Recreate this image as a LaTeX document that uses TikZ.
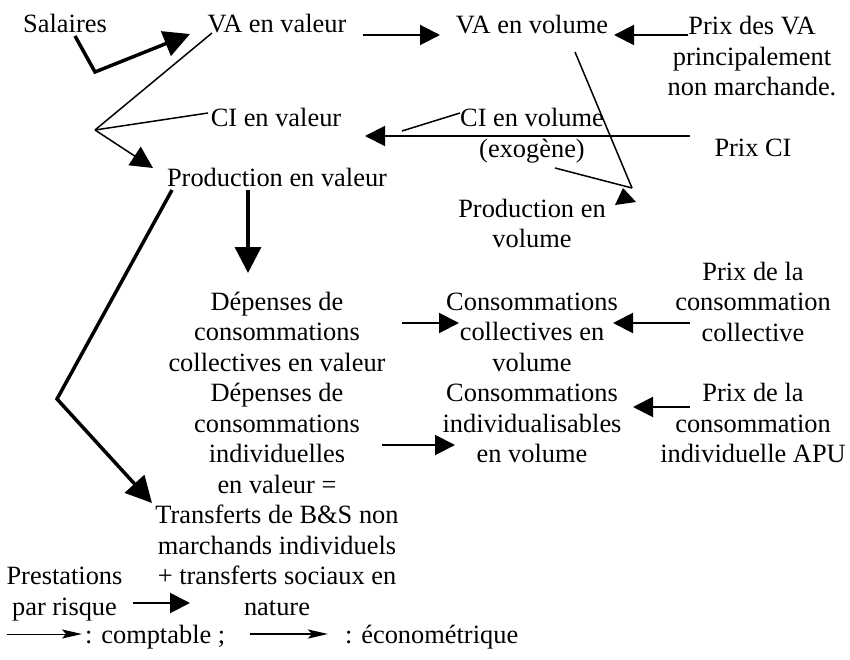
\documentclass[tikz,border=0pt]{standalone}
\usepackage{fontspec}
\setmainfont{Liberation Serif}
\usetikzlibrary{arrows.meta}
\begin{document}
\begin{tikzpicture}[x=1pt,y=-1pt,
  lbl/.style={inner sep=0pt, align=center, anchor=base, font=\fontsize{26.4}{30.5}\selectfont},
  lbll/.style={lbl, anchor=base west},
  thinline/.style={line width=1.5pt},
  thinarr/.style={line width=1.5pt, -{Triangle[length=22pt,width=22pt]}},
  medarr/.style={line width=2pt, -{Triangle[length=20pt,width=20pt]}},
  thickarr/.style={line width=3.5pt, -{Triangle[length=26pt,width=26pt]}},
  legthin/.style={line width=1pt, -{Stealth[length=20pt,width=9pt,inset=4pt]}},
  legthick/.style={line width=2.5pt, -{Stealth[length=20pt,width=9pt,inset=4pt]}}
]
\useasboundingbox (0,0) rectangle (850,660);
\fill[white] (0,0) rectangle (850,660);

% nodes (multi-line nodes are placed by the baseline of their last line)
\node[lbl] (sal) at (65,33) {Salaires};
\node[lbl] (vaval) at (277,33) {VA en valeur};
\node[lbl] (vavol) at (532,34) {VA en volume};
\node[lbl] (pva) at (752,96) {Prix des VA\\principalement\\non marchande.};
\node[lbl] (cival) at (276,127) {CI en valeur};
\node[lbl] (civol) at (532,157.5) {CI en volume\\(exogène)};
\node[lbl] (pci) at (753,157) {Prix CI};
\node[lbl] (prodval) at (277,187) {Production en valeur};
\node[lbl] (prodvol) at (532,247.5) {Production en\\volume};
\node[lbl] (depcol) at (277,371) {Dépenses de\\consommations\\collectives en valeur};
\node[lbl] (depind) at (277,615) {Dépenses de\\consommations\\individuelles\\en valeur =\\Transferts de B\&S non\\marchands individuels\\+ transferts sociaux en\\nature};
\node[lbl] (concol) at (532,371) {Consommations\\collectives en\\volume};
\node[lbl] (conind) at (532,462.5) {Consommations\\individualisables\\en volume};
\node[lbl] (pcol) at (753,341) {Prix de la\\consommation\\collective};
\node[lbl] (pind) at (753,462.5) {Prix de la\\consommation\\individuelle APU};
\node[lbl] (prest) at (64.5,615) {Prestations\\par risque};
\node[lbll] (legc) at (85,643) {: comptable ;};
\node[lbll] (lege) at (345,643) {: économétrique};

% connector points
\coordinate (salA) at (75,36);
\coordinate (salB) at (95,72);
\coordinate (vavalT) at (190,34);
\coordinate (vavalR) at (363,35);
\coordinate (vavolL) at (440,35);
\coordinate (pvaL) at (688,35);
\coordinate (vavolR) at (614,35);
\coordinate (vavalL) at (212,33);
\coordinate (civalL) at (208,113);
\coordinate (j1) at (95,130);
\coordinate (prodvalT) at (153,168);
\coordinate (civolL) at (460,113);
\coordinate (civolE) at (402,131);
\coordinate (pciL) at (690,136);
\coordinate (civalR) at (365,136);
\coordinate (vavolB) at (575,52);
\coordinate (exoB) at (555,168);
\coordinate (j2) at (632,188);
\coordinate (prodvalB) at (248,190);
\coordinate (depcolT) at (248,273);
\coordinate (prodvalBL) at (172,190);
\coordinate (kink) at (57,399);
\coordinate (depindT) at (152,503);
\coordinate (depcolR) at (402,323);
\coordinate (concolL) at (459,323);
\coordinate (pcolL) at (690,323);
\coordinate (concolR) at (613,323);
\coordinate (depindR) at (382,445);
\coordinate (conindL) at (455,445);
\coordinate (pindL) at (690,407);
\coordinate (conindR) at (633,407);
\coordinate (prestR) at (133,603);
\coordinate (depindL) at (190,603);
\coordinate (lg1a) at (7,634);
\coordinate (lg1b) at (82,634);
\coordinate (lg2a) at (250,634);
\coordinate (lg2b) at (328,634);

% connectors
\draw[thickarr, line join=miter] (salA) -- (salB) -- (vavalT);
\draw[medarr] (vavalR) -- (vavolL);
\draw[medarr] (pvaL) -- (vavolR);
\draw[thinline] (vavalL) -- (j1);
\draw[thinline] (civalL) -- (j1);
\draw[thinarr] (j1) -- (prodvalT);
\draw[thinline] (civolL) -- (civolE);
\draw[medarr] (pciL) -- (civalR);
\draw[thinline] (vavolB) -- (j2);
\draw[thinline] (exoB) -- (j2);
\fill (615,205) -- (636,202) -- (623,188) -- cycle;
\draw[thickarr] (prodvalB) -- (depcolT);
\draw[thickarr, line join=miter] (prodvalBL) -- (kink) -- (depindT);
\draw[medarr] (depcolR) -- (concolL);
\draw[medarr] (pcolL) -- (concolR);
\draw[medarr] (depindR) -- (conindL);
\draw[medarr] (pindL) -- (conindR);
\draw[medarr] (prestR) -- (depindL);
\draw[legthin] (lg1a) -- (lg1b);
\draw[legthick] (lg2a) -- (lg2b);
\end{tikzpicture}
\end{document}
